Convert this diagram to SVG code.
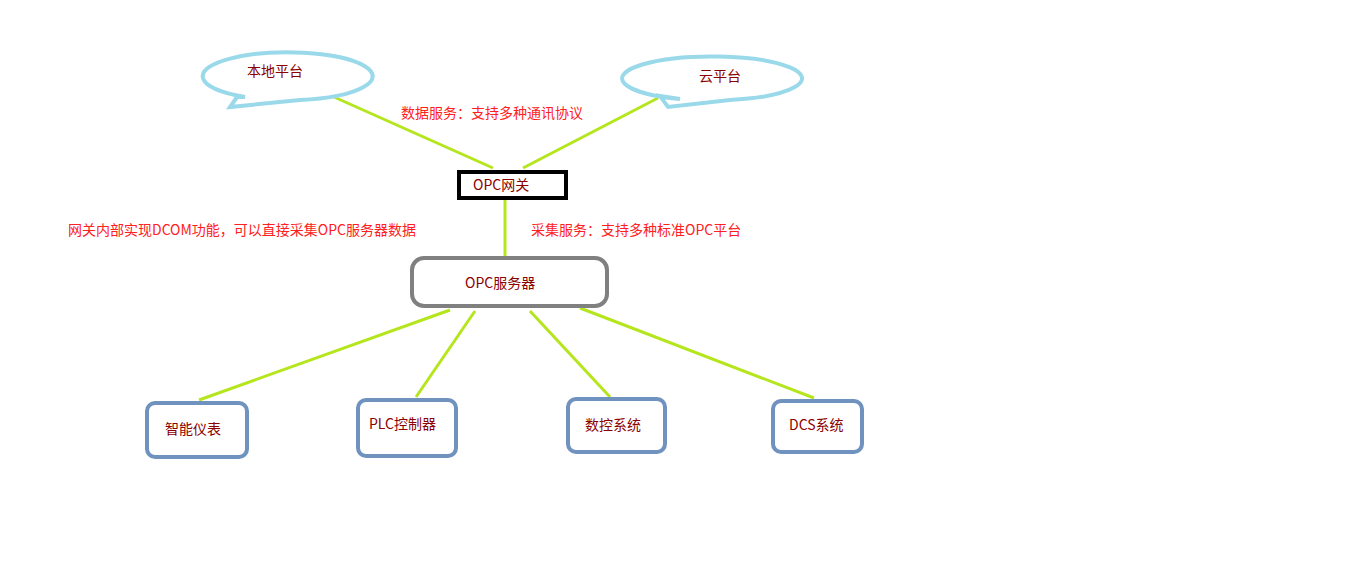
<svg xmlns="http://www.w3.org/2000/svg" width="1360" height="564" viewBox="0 0 1360 564">
<style>
text{font-family:"Microsoft YaHei","Noto Sans CJK SC",sans-serif;font-size:14px}
.n{fill:#8B0000}
.l{fill:#FF2020}
.cloud{fill:#fff;stroke:#99D9EA;stroke-width:4}
.dev{fill:#fff;stroke:#7092BE;stroke-width:4}
.c line{stroke:#B5E61D;stroke-width:3}
</style>
<rect width="1360" height="564" fill="#fff"/>
<g class="c">
<line x1="334" y1="97" x2="493" y2="168"/>
<line x1="658" y1="98" x2="523" y2="168"/>
<line x1="505" y1="200" x2="505" y2="259"/>
<line x1="450" y1="310" x2="199" y2="400"/>
<line x1="475" y1="311" x2="416" y2="397"/>
<line x1="530" y1="311" x2="610" y2="397"/>
<line x1="580" y1="308" x2="814" y2="398"/>
</g>
<g id="local">
<path class="cloud" d="M245,97 A85,24 0 1 1 300,100 L230,107 L237,97 Z"/>
<text class="n" x="247" y="76">本地平台</text>
</g>
<g id="cloud">
<path class="cloud" d="M680,99 A90,22 0 1 1 730,100 L668,107 L660,96 Z"/>
<text class="n" x="699" y="81">云平台</text>
</g>
<g id="gateway">
<rect x="459" y="172" width="107" height="26" fill="#fff" stroke="#000" stroke-width="4"/>
<text class="n" x="473" y="190">OPC网关</text>
</g>
<g id="server">
<rect x="412" y="258" width="195" height="48" rx="12" fill="#fff" stroke="#808080" stroke-width="4"/>
<text class="n" x="465" y="288">OPC服务器</text>
</g>
<g id="d1"><rect class="dev" x="147" y="403" width="100" height="54" rx="8"/><text class="n" x="165" y="434">智能仪表</text></g>
<g id="d2"><rect class="dev" x="358" y="400" width="98" height="56" rx="8"/><text class="n" x="369" y="429">PLC控制器</text></g>
<g id="d3"><rect class="dev" x="568" y="399" width="97" height="53" rx="8"/><text class="n" x="585" y="430">数控系统</text></g>
<g id="d4"><rect class="dev" x="773" y="401" width="89" height="51" rx="8"/><text class="n" x="789" y="430">DCS系统</text></g>
<text class="l" x="401" y="118">数据服务：支持多种通讯协议</text>
<text class="l" x="68" y="235">网关内部实现DCOM功能，可以直接采集OPC服务器数据</text>
<text class="l" x="531" y="235">采集服务：支持多种标准OPC平台</text>
</svg>
